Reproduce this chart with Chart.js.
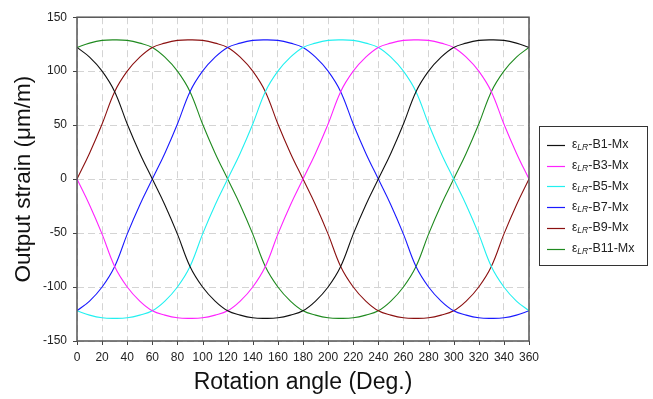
<!DOCTYPE html>
<html>
<head>
<meta charset="utf-8">
<script src="https://cdn.jsdelivr.net/npm/chart.js@4.4.0/dist/chart.umd.min.js"></script>
<style>
  html, body { margin: 0; padding: 0; background: #fff; }
  #wrap { width: 653px; height: 399px; }
</style>
</head>
<body>
<div id="wrap"><canvas id="c" width="653" height="399"></canvas></div>
<script>
// rotation angle (deg)
const angles = [0,10,20,30,40,50,60,70,80,90,100,110,120,130,140,150,160,170,180,
                190,200,210,220,230,240,250,260,270,280,290,300,310,320,330,340,350,360];

// output strain (um/m)
const b1  = [122,113,100,81,51,24,0,-24,-51,-81,-100,-113,-122,-126,-128.5,-129,-128.5,-126,-122,-113,-100,-81,-51,-24,0,24,51,81,100,113,122,126,128.5,129,128.5,126,122];
const b3  = [0,-24,-51,-81,-100,-113,-122,-126,-128.5,-129,-128.5,-126,-122,-113,-100,-81,-51,-24,0,24,51,81,100,113,122,126,128.5,129,128.5,126,122,113,100,81,51,24,0];
const b5  = [-122,-126,-128.5,-129,-128.5,-126,-122,-113,-100,-81,-51,-24,0,24,51,81,100,113,122,126,128.5,129,128.5,126,122,113,100,81,51,24,0,-24,-51,-81,-100,-113,-122];
const b7  = [-122,-113,-100,-81,-51,-24,0,24,51,81,100,113,122,126,128.5,129,128.5,126,122,113,100,81,51,24,0,-24,-51,-81,-100,-113,-122,-126,-128.5,-129,-128.5,-126,-122];
const b9  = [0,24,51,81,100,113,122,126,128.5,129,128.5,126,122,113,100,81,51,24,0,-24,-51,-81,-100,-113,-122,-126,-128.5,-129,-128.5,-126,-122,-113,-100,-81,-51,-24,0];
const b11 = [122,126,128.5,129,128.5,126,122,113,100,81,51,24,0,-24,-51,-81,-100,-113,-122,-126,-128.5,-129,-128.5,-126,-122,-113,-100,-81,-51,-24,0,24,51,81,100,113,122];

const seriesNames  = ['B1-Mx', 'B3-Mx', 'B5-Mx', 'B7-Mx', 'B9-Mx', 'B11-Mx'];
const seriesData   = [b1, b3, b5, b7, b9, b11];
const seriesColors = ['#111111', '#ff22ff', '#22f0f0', '#1a1aff', '#8b1010', '#1f8a1f'];

const xTicks = [0,20,40,60,80,100,120,140,160,180,200,220,240,260,280,300,320,340,360];
const yTicks = [-150,-100,-50,0,50,100,150];

const FONT = 'Liberation Sans, Arial, sans-serif';

// frame, tick marks and the legend with its subscripts
const decor = {
  id: 'decor',
  afterDraw(chart) {
    const ctx = chart.ctx;
    const a = chart.chartArea;
    const xs = chart.scales.x, ys = chart.scales.y;
    ctx.save();
    ctx.strokeStyle = '#444';
    ctx.lineWidth = 1;
    ctx.beginPath();
    xTicks.forEach(v => {
      const px = Math.round(xs.getPixelForValue(v)) + 0.5;
      ctx.moveTo(px, a.bottom); ctx.lineTo(px, a.bottom + 4);
    });
    yTicks.forEach(v => {
      const py = Math.round(ys.getPixelForValue(v)) + 0.5;
      ctx.moveTo(a.left - 4, py); ctx.lineTo(a.left, py);
    });
    ctx.stroke();
    ctx.strokeStyle = '#555';
    ctx.lineWidth = 1.5;
    ctx.strokeRect(a.left, a.top, a.right - a.left, a.bottom - a.top);

    // legend
    const lx = 539, ly = 126, lw = 108, lh = 139;
    ctx.fillStyle = '#fff';
    ctx.fillRect(lx, ly, lw, lh);
    ctx.strokeStyle = '#333';
    ctx.lineWidth = 1;
    ctx.strokeRect(lx + 0.5, ly + 0.5, lw, lh);
    ctx.textBaseline = 'middle';
    seriesNames.forEach((name, i) => {
      const y = 145 + i * 20.7;
      ctx.strokeStyle = seriesColors[i];
      ctx.lineWidth = 1.2;
      ctx.beginPath();
      ctx.moveTo(547, Math.round(y) + 0.5);
      ctx.lineTo(565, Math.round(y) + 0.5);
      ctx.stroke();
      ctx.fillStyle = '#222';
      let x = 572;
      ctx.font = '12px ' + FONT;
      ctx.fillText('\u03b5', x, y);
      x += ctx.measureText('\u03b5').width;
      ctx.font = 'italic 8.5px ' + FONT;
      ctx.fillText('LR', x, y + 3);
      x += ctx.measureText('LR').width;
      ctx.font = '12.5px ' + FONT;
      ctx.fillText('-' + name, x, y);
    });
    ctx.restore();
  }
};

const datasets = seriesData.map((vals, i) => ({
  label: seriesNames[i],
  data: angles.map((a, j) => ({ x: a, y: vals[j] })),
  borderColor: seriesColors[i],
  borderWidth: 1.1,
  pointRadius: 0,
  fill: false,
  tension: 0.4
}));

new Chart(document.getElementById('c'), {
  type: 'line',
  data: { datasets },
  options: {
    responsive: false,
    devicePixelRatio: 1,
    animation: false,
    layout: { padding: { left: 0, right: 124, top: 15, bottom: 0 } },
    plugins: { legend: { display: false }, tooltip: { enabled: false } },
    scales: {
      x: {
        type: 'linear', min: 0, max: 360,
        afterFit(s) { s.height = 58; },
        afterBuildTicks(s) { s.ticks = xTicks.map(v => ({ value: v })); },
        ticks: { padding: 9, maxRotation: 0, autoSkip: false, color: '#222', font: { family: FONT, size: 12 } },
        grid: { color: '#d4d4d4', drawTicks: false },
        border: { display: false, dash: [7, 4] },
        title: { display: true, text: 'Rotation angle (Deg.)', color: '#111',
                 font: { family: FONT, size: 23 }, padding: { top: 3, bottom: 3 } }
      },
      y: {
        min: -150, max: 150,
        afterFit(s) { s.width = 77; },
        afterBuildTicks(s) { s.ticks = yTicks.map(v => ({ value: v })); },
        ticks: { padding: 10, color: '#222', font: { family: FONT, size: 12 } },
        grid: { color: '#d4d4d4', drawTicks: false },
        border: { display: false, dash: [7, 4] },
        title: { display: true, text: 'Output strain (\u03bcm/m)', color: '#111',
                 font: { family: FONT, size: 22.5 }, padding: { top: 10, bottom: 10 } }
      }
    }
  },
  plugins: [decor]
});
</script>
</body>
</html>
